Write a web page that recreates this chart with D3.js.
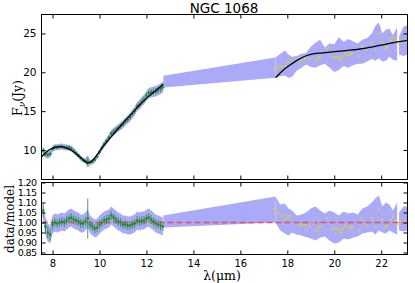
<!DOCTYPE html>
<html><head><meta charset="utf-8">
<script src="https://cdn.jsdelivr.net/npm/d3@7"></script>
<style>body{margin:0;background:#fff}svg{display:block}</style>
</head><body>
<script>
// ---------- data ----------
const title = "NGC 1068";
const xTicks = [8, 10, 12, 14, 16, 18, 20, 22];
const yTopTicks = [10, 15, 20, 25];
const yBotTicks = [0.85, 0.90, 0.95, 1.00, 1.05, 1.10, 1.15, 1.20];

// model (short wavelength segment)
const modelX1 = [7.53,7.7,7.9,8.1,8.3,8.5,8.7,8.9,9.1,9.3,9.5,9.7,9.9,10.1,10.3,10.5,10.7,10.9,11.1,11.3,11.5,11.7,11.9,12.1,12.3,12.5,12.72];
const modelY1 = [9.1,9.65,10.1,10.35,10.42,10.35,10.1,9.75,9.25,8.75,8.3,8.65,9.4,10.25,11.0,11.7,12.4,13.1,13.8,14.45,15.1,15.75,16.35,16.9,17.4,17.9,18.5];
// model (long wavelength segment)
const modelX2 = [17.5,17.8,18.1,18.4,18.7,19.0,19.5,20.0,20.5,21.0,21.5,22.0,22.5,23.12];
const modelY2 = [19.3,20.2,20.9,21.5,22.0,22.3,22.5,22.65,22.8,22.95,23.2,23.5,23.8,24.1];

// green spectrum points
const greenX = [7.6,7.7,7.8,7.9,8.0,8.1,8.2,8.3,8.4,8.5,8.6,8.7,8.8,8.9,9.0,9.1,9.2,9.3,9.4,9.5,9.6,9.7,9.8,9.9,10.0,10.1,10.2,10.3,10.4,10.5,10.6,10.7,10.8,10.9,11.0,11.1,11.2,11.3,11.4,11.5,11.6,11.7,11.8,11.9,12.0,12.1,12.2,12.3,12.4,12.5,12.6,12.7];
const greenF = [9.89,9.46,9.39,9.49,10.13,10.35,10.34,10.42,10.44,10.35,10.33,10.3,10.18,9.9,9.6,9.3,8.96,8.71,8.59,8.52,8.42,8.48,8.73,9.17,9.73,10.25,10.74,11.17,11.58,12.11,12.35,12.59,12.81,13.1,13.32,13.66,13.92,14.23,14.63,15.02,15.58,15.83,16.21,16.51,16.96,17.32,17.41,17.49,17.56,17.72,17.9,18.08];
const greenErr = [0.35,0.3,0.3,0.28,0.25,0.25,0.24,0.24,0.24,0.24,0.24,0.23,0.23,0.22,0.22,0.22,0.21,0.21,0.21,0.5,0.21,0.21,0.21,0.22,0.23,0.25,0.26,0.27,0.28,0.3,0.3,0.31,0.31,0.32,0.33,0.33,0.34,0.35,0.36,0.37,0.37,0.38,0.38,0.39,0.4,0.41,0.41,0.42,0.42,0.43,0.43,0.44];
const greenRatio = [1.06,0.98,0.95,0.94,0.99,1.0,0.995,1.0,1.005,1.0,1.01,1.02,1.025,1.015,1.01,1.005,0.995,0.995,1.005,1.02,0.99,0.98,0.97,0.975,0.99,1.0,1.01,1.015,1.02,1.035,1.025,1.015,1.005,1.0,0.99,0.99,0.985,0.985,0.99,0.995,1.01,1.005,1.01,1.01,1.02,1.025,1.015,1.005,0.995,0.99,0.985,0.98];
const greenRatioErr = [0.035,0.03,0.03,0.03,0.025,0.022,0.022,0.022,0.022,0.022,0.022,0.022,0.022,0.022,0.022,0.022,0.022,0.022,0.022,0.1,0.022,0.022,0.022,0.022,0.022,0.022,0.022,0.022,0.022,0.022,0.022,0.022,0.022,0.022,0.022,0.022,0.022,0.022,0.022,0.022,0.022,0.022,0.022,0.022,0.022,0.022,0.022,0.022,0.022,0.022,0.022,0.022];

// yellow long-wavelength points
const yelX = [17.46,17.56,17.66,17.77,17.91,18.03,18.13,18.48,18.63,18.77,18.94,19.12,19.24,19.34,19.41,19.69,19.91,20.02,20.12,20.22,20.26,20.36,20.47,20.59,20.69,20.76,21.07,21.19,21.4,21.61,21.76,21.9,22.04,22.18,22.25,22.4,22.49,22.61,22.75,22.82,23.0];
const yelF = [20.48,20.48,20.69,20.77,20.81,21.2,21.63,21.41,21.54,21.76,21.76,22.4,21.54,21.89,22.06,23.04,21.89,21.97,21.97,21.89,21.54,22.06,22.4,22.18,22.31,22.4,22.06,23.34,22.91,23.76,22.83,24.97,23.89,23.04,23.25,24.1,24.53,24.1,23.68,24.1,24.1];
const yelRatio = [1.067,1.05,1.045,1.033,1.018,1.023,1.032,0.99,0.984,0.986,0.979,1.002,0.961,0.975,0.982,1.021,0.968,0.97,0.969,0.963,0.948,0.969,0.983,0.972,0.976,0.979,0.96,1.013,0.99,1.021,0.977,1.065,1.016,0.976,0.983,1.015,1.031,1.01,0.99,1.006,1.002];

// uncertainty band, gap between the two spectra
const gapX = [12.72, 17.5];
const gapLo = [18.05, 19.3];
const gapHi = [19.55, 21.9];
const gapRLo = [0.975, 1.0];
const gapRHi = [1.035, 1.13];

// uncertainty band, long wavelength part (null = gap)
const bandX = [17.5,17.7,17.9,18.05,18.2,18.4,18.6,18.8,19.0,19.2,19.4,19.6,19.8,20.0,20.2,20.4,20.6,20.8,21.0,21.2,21.4,21.6,21.75,21.9,22.05,22.2,22.35,22.5,22.68,null,22.76,22.95,23.12];
const bandLo = [19.3,19.5,19.6,19.3,19.4,20.2,20.6,21.0,20.7,20.6,20.9,21.1,20.6,20.05,20.3,20.8,20.6,20.9,21.1,21.1,21.4,21.7,21.5,21.8,21.4,21.5,22.0,21.6,21.5,null,22.3,22.1,22.3];
const bandHi = [21.9,22.4,22.8,22.3,22.0,22.1,22.4,22.5,23.3,23.8,24.2,23.2,23.7,23.6,24.5,23.9,24.3,24.0,23.7,24.2,24.4,25.0,26.0,26.4,25.0,25.5,25.6,24.8,25.8,null,24.6,25.9,26.0];
const bandRLo = [1.0,0.96,0.945,0.935,0.95,0.94,0.935,0.927,0.92,0.91,0.925,0.93,0.91,0.895,0.9,0.92,0.915,0.925,0.93,0.945,0.95,0.955,0.94,0.96,0.95,0.945,0.96,0.95,0.94,null,0.96,0.955,0.96];
const bandRHi = [1.13,1.09,1.095,1.07,1.06,1.035,1.04,1.05,1.07,1.08,1.06,1.045,1.06,1.05,1.035,1.055,1.045,1.05,1.04,1.07,1.08,1.10,1.12,1.135,1.08,1.1,1.09,1.06,1.1,null,1.05,1.08,1.08];

// ---------- drawing ----------
const W = 415, H = 283;
const L = 41.5, R = 407.5, T1 = 14.5, B1 = 179.5, T2 = 182.5, B2 = 254.5;
const svg = d3.select("body").append("svg").attr("width", W).attr("height", H);

const x = d3.scaleLinear([7.53, 23.12], [L, R]);
const yT = d3.scaleLinear([6.2, 27.44], [B1, T1]);
const yB = d3.scaleLinear([0.84, 1.2], [B2, T2]);

const BAND = "#aaaaf8";
const GREEN = "#1f8a2a";
const YEL = "#e0d820";

svg.append("defs").selectAll("clipPath").data([["c1",T1,B1],["c2",T2,B2]]).join("clipPath")
  .attr("id", d => d[0]).append("rect")
  .attr("x", L).attr("y", d => d[1]).attr("width", R - L).attr("height", d => d[2] - d[1]);

function panel(clip, y, gLo, gHi, bLo, bHi, gVal, gErr) {
  const g = svg.append("g").attr("clip-path", `url(#${clip})`);
  const idx = (arr) => arr.map((_, i) => i);
  const area = (xs, lo, hi) => d3.area().defined(i => xs[i] !== null)
    .x(i => x(xs[i])).y0(i => y(lo[i])).y1(i => y(hi[i]));
  g.append("path").attr("fill", BAND)
    .attr("d", area(greenX, greenX.map((_, i) => gVal[i] - gErr[i] * 1.6), greenX.map((_, i) => gVal[i] + gErr[i] * 1.6))(idx(greenX)));
  g.append("path").attr("fill", BAND).attr("d", area(gapX, gLo, gHi)(idx(gapX)));
  g.append("path").attr("fill", BAND).attr("d", area(bandX, bLo, bHi)(idx(bandX)));
  return g;
}

// top panel
const g1 = panel("c1", yT, gapLo, gapHi, bandLo, bandHi, greenF, greenErr);
g1.selectAll("line.err").data(greenX).join("line").attr("class","err")
  .attr("x1", d => x(d)).attr("x2", d => x(d))
  .attr("y1", (d, i) => yT(greenF[i] - greenErr[i])).attr("y2", (d, i) => yT(greenF[i] + greenErr[i]))
  .attr("stroke", GREEN).attr("stroke-width", 0.8);
g1.selectAll("circle.g").data(greenX).join("circle").attr("class","g")
  .attr("cx", d => x(d)).attr("cy", (d, i) => yT(greenF[i])).attr("r", 1.3).attr("fill", GREEN);
g1.selectAll("circle.y").data(yelX).join("circle").attr("class","y")
  .attr("cx", d => x(d)).attr("cy", (d, i) => yT(yelF[i])).attr("r", 1.1).attr("fill", YEL);
const line = d3.line().curve(d3.curveMonotoneX);
g1.append("path").attr("fill","none").attr("stroke","#000").attr("stroke-width",1.3)
  .attr("d", line(modelX1.map((d, i) => [x(d), yT(modelY1[i])])));
g1.append("path").attr("fill","none").attr("stroke","#000").attr("stroke-width",1.3)
  .attr("d", line(modelX2.map((d, i) => [x(d), yT(modelY2[i])])));

// bottom panel
const g2 = panel("c2", yB, gapRLo, gapRHi, bandRLo, bandRHi, greenRatio, greenX.map(() => 0.028));
g2.append("line").attr("x1", L).attr("x2", R).attr("y1", yB(1)).attr("y2", yB(1))
  .attr("stroke", "#e2505e").attr("stroke-width", 1.6).attr("stroke-dasharray", "6,3");
g2.selectAll("line.err").data(greenX).join("line").attr("class","err")
  .attr("x1", d => x(d)).attr("x2", d => x(d))
  .attr("y1", (d, i) => yB(greenRatio[i] - greenRatioErr[i])).attr("y2", (d, i) => yB(greenRatio[i] + greenRatioErr[i]))
  .attr("stroke", GREEN).attr("stroke-width", 0.8);
g2.selectAll("circle.g").data(greenX).join("circle").attr("class","g")
  .attr("cx", d => x(d)).attr("cy", (d, i) => yB(greenRatio[i])).attr("r", 1.3).attr("fill", GREEN);
g2.selectAll("circle.y").data(yelX).join("circle").attr("class","y")
  .attr("cx", d => x(d)).attr("cy", (d, i) => yB(yelRatio[i])).attr("r", 1.1).attr("fill", YEL);

// axes & frames
const font = "DejaVu Sans, sans-serif";
function frame(top, bot, y, yticks, fmt, showX, ySize, ySpacing) {
  svg.append("rect").attr("x", L).attr("y", top).attr("width", R - L).attr("height", bot - top)
    .attr("fill", "none").attr("stroke", "#000").attr("stroke-width", 1);
  const ax = (gen, tx, ty, fs) => {
    const a = svg.append("g").attr("transform", `translate(${tx},${ty})`).call(gen);
    a.select(".domain").remove();
    a.selectAll("line").attr("stroke", "#000");
    a.selectAll("text").attr("font-family", font).attr("font-size", fs || 10).attr("fill", "#000");
    return a;
  };
  ax(d3.axisBottom(x).tickValues(xTicks).tickSize(-4).tickFormat(showX ? d3.format("d") : "").tickPadding(5), 0, bot);
  ax(d3.axisTop(x).tickValues(xTicks).tickSize(-4).tickFormat(""), 0, top);
  const la = ax(d3.axisLeft(y).tickValues(yticks).tickSize(4).tickFormat(fmt).tickPadding(1), L, 0, ySize);
  la.selectAll("line").attr("x2", 4);
  la.selectAll("text").attr("letter-spacing", ySpacing);
  ax(d3.axisRight(y).tickValues(yticks).tickSize(-4).tickFormat(""), R, 0);
}
frame(T1, B1, yT, yTopTicks, d3.format("d"), false, 10.5, "0px");
frame(T2, B2, yB, yBotTicks, d3.format(".2f"), true, 9.5, "-0.6px");

// texts
svg.append("text").attr("x", 224).attr("y", 13).attr("text-anchor", "middle")
  .attr("font-family", font).attr("font-size", 13.5).text(title);
const serif = "DejaVu Serif, serif";
const yl = svg.append("text").attr("transform", "translate(22,98) rotate(-90)").attr("text-anchor", "middle")
  .attr("font-family", serif).attr("font-size", 12.5);
yl.append("tspan").text("F");
yl.append("tspan").attr("font-size", 9).attr("dy", 3).attr("font-style", "italic").text("ν");
yl.append("tspan").attr("dy", -3).text("(Jy)");
svg.append("text").attr("transform", "translate(14,219) rotate(-90)").attr("text-anchor", "middle")
  .attr("font-family", serif).attr("font-size", 12).text("data/model");
svg.append("text").attr("x", 222).attr("y", 280).attr("text-anchor", "middle")
  .attr("font-family", serif).attr("font-size", 12.5).text("λ(μm)");
</script>
</body></html>
